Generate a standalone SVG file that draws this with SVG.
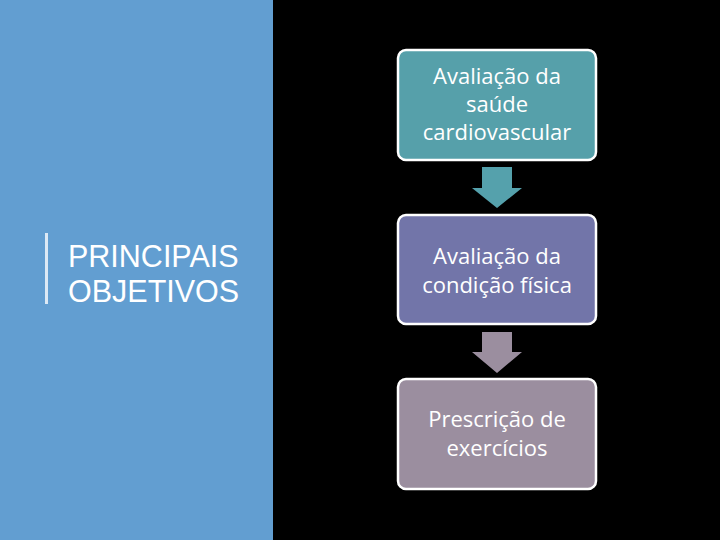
<svg xmlns="http://www.w3.org/2000/svg" width="720" height="540" viewBox="0 0 720 540">
<style>
.box{stroke:#ffffff;stroke-width:2.5}
.t{font-family:"Open Sans","Noto Sans",sans-serif;font-size:22px;fill:#ffffff;text-anchor:middle}
.h{font-family:"Liberation Sans",Arial,sans-serif;font-size:30.5px;fill:#ffffff}
</style>
<rect x="0" y="0" width="720" height="540" fill="#000000"/>
<rect x="0" y="0" width="273" height="540" fill="#629ed1"/>
<g id="title">
<rect x="45" y="233" width="3" height="71" fill="#dce9f5"/>
<text class="h" x="68" y="267">PRINCIPAIS</text>
<text class="h" x="68" y="302">OBJETIVOS</text>
</g>
<g id="connectors">
<polygon points="482,167 512,167 512,188 522,188 497,208 472,188 482,188" fill="#55a1ac"/>
<polygon points="482,332 512,332 512,352 522,352 497,373 472,352 482,352" fill="#9b8e9f"/>
</g>
<g id="node1">
<rect class="box" x="398" y="50" width="198" height="110" rx="8" fill="#56a0aa"/>
<text class="t" x="497" y="84">Avaliação da</text>
<text class="t" x="497" y="112">saúde</text>
<text class="t" x="497" y="140">cardiovascular</text>
</g>
<g id="node2">
<rect class="box" x="398" y="215" width="198" height="109" rx="8" fill="#7275a9"/>
<text class="t" x="497" y="264">Avaliação da</text>
<text class="t" x="497" y="293">condição física</text>
</g>
<g id="node3">
<rect class="box" x="398" y="379" width="198" height="110" rx="8" fill="#9b8e9f"/>
<text class="t" x="497" y="427">Prescrição de</text>
<text class="t" x="497" y="456">exercícios</text>
</g>
</svg>
